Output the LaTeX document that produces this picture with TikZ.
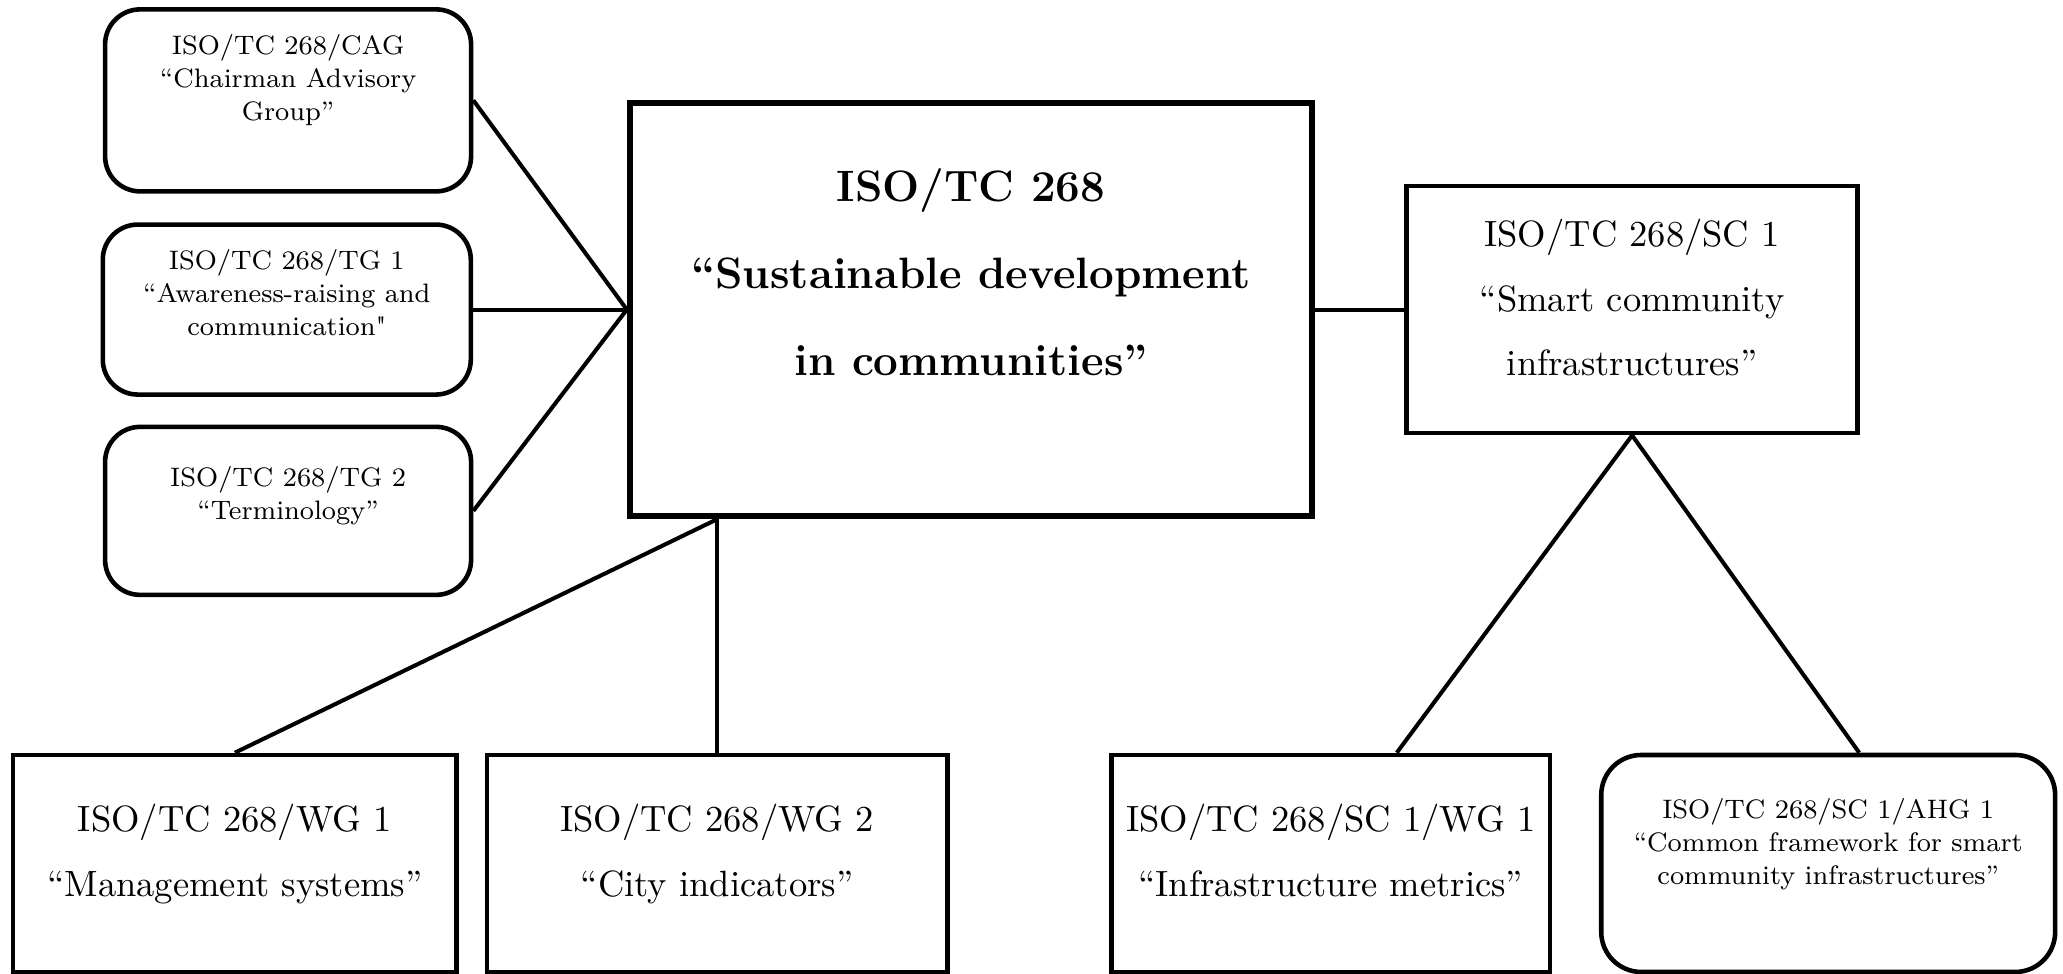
\documentclass[tikz,border=0pt]{standalone}
\usepackage{fontspec}
\usetikzlibrary{positioning}
\tikzstyle{box}=[draw, rectangle, line width=1.3pt, inner sep=0pt]
\tikzstyle{rbox}=[box, rounded corners=0.35cm]
\tikzstyle{mainbox}=[box, line width=1.8pt]
\tikzstyle{txt}=[inner sep=0pt, align=center]
\tikzstyle{txtS}=[txt, font=\fontsize{7.6}{9.4}\selectfont]
\tikzstyle{txtM}=[txt, font=\fontsize{10.4}{18.3}\selectfont]
\tikzstyle{txtB}=[txt, font=\fontsize{12.5}{24.7}\selectfont\bfseries]
\tikzstyle{edge}=[line width=1.15pt]

\begin{document}
\begin{tikzpicture}
			\useasboundingbox (0,0) rectangle (20.63,9.74);

			% Technical committee
			\node[mainbox, minimum width=6.82cm, minimum height=4.13cm] (tc) at (9.71,6.644) {};
			\node[txtB, below=0.68cm of tc.north] (tct) {ISO/TC 268\\“Sustainable development\\in communities”};

			% Groups on the left
			\node[rbox, minimum width=3.66cm, minimum height=1.82cm] (cag) at (2.881,8.736) {};
			\node[txtS, below=0.27cm of cag.north] (cagt) {ISO/TC 268/CAG\\“Chairman Advisory\\Group”};
			\node[rbox, minimum width=3.68cm, minimum height=1.70cm] (tg1) at (2.868,6.644) {};
			\node[txtS, below=0.26cm of tg1.north] (tg1t) {ISO/TC 268/TG 1\\“Awareness-raising and\\communication\textquotedbl};
			\node[rbox, minimum width=3.66cm, minimum height=1.68cm] (tg2) at (2.881,4.631) {};
			\node[txtS, below=0.41cm of tg2.north] (tg2t) {ISO/TC 268/TG 2\\“Terminology”};

			% Subcommittee
			\node[box, minimum width=4.51cm, minimum height=2.47cm] (sc1) at (16.321,6.644) {};
			\node[txtM, below=0.35cm of sc1.north] (sc1t) {ISO/TC 268/SC 1\\“Smart community\\infrastructures”};

			% Working groups
			\node[box, minimum width=4.434cm, minimum height=2.17cm] (wg1) at (2.349,1.105) {};
			\node[txtM, below=0.51cm of wg1.north] (wg1t) {ISO/TC 268/WG 1\\“Management systems”};
			\node[box, minimum width=4.605cm, minimum height=2.17cm] (wg2) at (7.171,1.105) {};
			\node[txtM, below=0.51cm of wg2.north] (wg2t) {ISO/TC 268/WG 2\\“City indicators”};
			\node[box, minimum width=4.381cm, minimum height=2.17cm] (scwg) at (13.308,1.105) {};
			\node[txtM, below=0.51cm of scwg.north] (scwgt) {ISO/TC 268/SC 1/WG 1\\“Infrastructure metrics”};
			\node[rbox, rounded corners=0.4cm, minimum width=4.539cm, minimum height=2.17cm] (ahg) at (18.282,1.105) {};
			\node[txtS, below=0.45cm of ahg.north] (ahgt) {ISO/TC 268/SC 1/AHG 1\\“Common framework for smart\\community infrastructures”};

			% Links
			\coordinate (tcb) at (tc.south -| wg2.north);
			\draw[edge] (cag.east)edge(tc.west) (tg1.east)edge(tc.west) (tg2.east)edge(tc.west);
			\draw[edge] (tc.east)edge(sc1.west);
			\draw[edge] (tcb)edge(wg1.north) (tcb)edge(wg2.north);
			\draw[edge] (sc1.south)edge([xshift=0.66cm]scwg.north) (sc1.south)edge([xshift=0.31cm]ahg.north);
		\end{tikzpicture}
\end{document}
